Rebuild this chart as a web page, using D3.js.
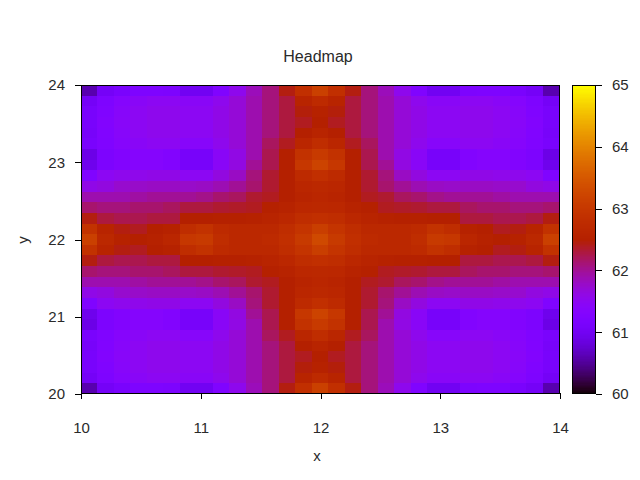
<!DOCTYPE html>
<html lang="en">
<head>
  <meta charset="UTF-8">
  <title>Headmap</title>
  <script src="https://d3js.org/d3.v7.min.js"></script>
  <style>
    html, body { margin: 0; padding: 0; background: #fff; }
    svg { display: block; }
    text { font-family: "Liberation Sans", Arial, sans-serif; fill: #2a2a2a; }
    .domain { display: none; }
  </style>
</head>
<body>
<div id="graph"></div>
<script>
  const xTicks = [10, 11, 12, 13, 14];
  const yTicks = [20, 21, 22, 23, 24];
  const cbTicks = [60, 61, 62, 63, 64, 65];

  // cell values, top row (y = 24) first
  const cells = [
    [60.6,61.05,61.15,61.22,61.22,61.2,61.0,61.0,61.25,61.55,61.85,62.1,62.45,62.85,63.15,62.85,62.45,62.1,61.85,61.55,61.25,61.0,61.0,61.2,61.22,61.22,61.15,61.05,60.6],
    [61.05,61.22,61.35,61.45,61.5,61.5,61.45,61.45,61.55,61.7,61.9,62.1,62.3,62.6,62.75,62.6,62.3,62.1,61.9,61.7,61.55,61.45,61.45,61.5,61.5,61.45,61.35,61.22,61.05],
    [61.12,61.25,61.4,61.5,61.55,61.55,61.5,61.5,61.6,61.7,61.9,62.1,62.3,62.47,62.55,62.47,62.3,62.1,61.9,61.7,61.6,61.5,61.5,61.55,61.55,61.5,61.4,61.25,61.12],
    [61.12,61.3,61.42,61.5,61.55,61.55,61.5,61.5,61.6,61.7,61.9,62.1,62.3,62.4,62.5,62.4,62.3,62.1,61.9,61.7,61.6,61.5,61.5,61.55,61.55,61.5,61.42,61.3,61.12],
    [61.1,61.28,61.4,61.5,61.55,61.55,61.5,61.5,61.6,61.7,61.9,62.1,62.3,62.5,62.6,62.5,62.3,62.1,61.9,61.7,61.6,61.5,61.5,61.55,61.55,61.5,61.4,61.28,61.1],
    [61.15,61.25,61.38,61.45,61.5,61.5,61.4,61.4,61.55,61.7,61.9,62.2,62.4,62.65,62.8,62.65,62.4,62.2,61.9,61.7,61.55,61.4,61.4,61.5,61.5,61.45,61.38,61.25,61.15],
    [60.9,61.2,61.3,61.35,61.35,61.3,61.1,61.1,61.45,61.62,61.9,62.25,62.5,62.9,63.05,62.9,62.5,62.25,61.9,61.62,61.45,61.1,61.1,61.3,61.35,61.35,61.3,61.2,60.9],
    [60.95,61.2,61.3,61.35,61.35,61.3,61.1,61.1,61.45,61.64,62.0,62.25,62.5,63.0,63.2,63.0,62.5,62.25,62.0,61.64,61.45,61.1,61.1,61.3,61.35,61.35,61.3,61.2,60.95],
    [61.25,61.5,61.55,61.57,61.6,61.6,61.5,61.5,61.65,61.8,62.1,62.35,62.5,62.75,62.85,62.75,62.5,62.35,62.1,61.8,61.65,61.5,61.5,61.6,61.6,61.57,61.55,61.5,61.25],
    [61.6,61.65,61.75,61.78,61.8,61.8,61.78,61.8,61.88,62,62.15,62.35,62.5,62.65,62.7,62.65,62.5,62.35,62.15,62,61.88,61.8,61.78,61.8,61.8,61.78,61.75,61.65,61.6],
    [61.9,61.9,61.9,61.95,62,62,62,62.05,62.15,62.2,62.35,62.4,62.5,62.6,62.65,62.6,62.5,62.4,62.35,62.2,62.15,62.05,62,62,62,61.95,61.9,61.9,61.9],
    [62.15,62.1,62.1,62.15,62.15,62.2,62.3,62.3,62.35,62.37,62.4,62.52,62.58,62.68,62.7,62.68,62.58,62.52,62.4,62.37,62.35,62.3,62.3,62.2,62.15,62.15,62.1,62.1,62.15],
    [62.45,62.3,62.25,62.25,62.3,62.3,62.5,62.5,62.52,62.52,62.55,62.6,62.68,62.8,62.85,62.8,62.68,62.6,62.55,62.52,62.52,62.5,62.5,62.3,62.3,62.25,62.25,62.3,62.45],
    [62.9,62.6,62.45,62.4,62.5,62.55,62.8,62.9,62.75,62.7,62.7,62.7,62.8,62.95,63.12,62.95,62.8,62.7,62.7,62.7,62.75,62.9,62.8,62.55,62.5,62.4,62.45,62.6,62.9],
    [63.15,62.7,62.55,62.5,62.55,62.65,63,63.05,62.8,62.7,62.7,62.75,62.85,63.05,63.3,63.05,62.85,62.75,62.7,62.7,62.8,63.05,63,62.65,62.55,62.5,62.55,62.7,63.15],
    [62.9,62.6,62.45,62.4,62.5,62.55,62.8,62.9,62.75,62.7,62.7,62.7,62.8,62.95,63.12,62.95,62.8,62.7,62.7,62.7,62.75,62.9,62.8,62.55,62.5,62.4,62.45,62.6,62.9],
    [62.45,62.3,62.25,62.25,62.3,62.3,62.5,62.5,62.52,62.52,62.55,62.6,62.68,62.8,62.85,62.8,62.68,62.6,62.55,62.52,62.52,62.5,62.5,62.3,62.3,62.25,62.25,62.3,62.45],
    [62.15,62.1,62.1,62.15,62.15,62.2,62.3,62.3,62.35,62.37,62.4,62.52,62.58,62.68,62.7,62.68,62.58,62.52,62.4,62.37,62.35,62.3,62.3,62.2,62.15,62.15,62.1,62.1,62.15],
    [61.9,61.9,61.9,61.95,62,62,62,62.05,62.15,62.2,62.35,62.4,62.5,62.6,62.65,62.6,62.5,62.4,62.35,62.2,62.15,62.05,62,62,62,61.95,61.9,61.9,61.9],
    [61.6,61.65,61.75,61.78,61.8,61.8,61.78,61.8,61.88,62,62.15,62.35,62.5,62.65,62.7,62.65,62.5,62.35,62.15,62,61.88,61.8,61.78,61.8,61.8,61.78,61.75,61.65,61.6],
    [61.25,61.5,61.55,61.57,61.6,61.6,61.5,61.5,61.65,61.8,62.1,62.35,62.5,62.75,62.85,62.75,62.5,62.35,62.1,61.8,61.65,61.5,61.5,61.6,61.6,61.57,61.55,61.5,61.25],
    [60.95,61.2,61.3,61.35,61.35,61.3,61.1,61.1,61.45,61.64,62.0,62.25,62.5,63.0,63.2,63.0,62.5,62.25,62.0,61.64,61.45,61.1,61.1,61.3,61.35,61.35,61.3,61.2,60.95],
    [60.9,61.2,61.3,61.35,61.35,61.3,61.1,61.1,61.45,61.62,61.9,62.25,62.5,62.9,63.05,62.9,62.5,62.25,61.9,61.62,61.45,61.1,61.1,61.3,61.35,61.35,61.3,61.2,60.9],
    [61.15,61.25,61.38,61.45,61.5,61.5,61.4,61.4,61.55,61.7,61.9,62.2,62.4,62.65,62.8,62.65,62.4,62.2,61.9,61.7,61.55,61.4,61.4,61.5,61.5,61.45,61.38,61.25,61.15],
    [61.1,61.28,61.4,61.5,61.55,61.55,61.5,61.5,61.6,61.7,61.9,62.1,62.3,62.5,62.6,62.5,62.3,62.1,61.9,61.7,61.6,61.5,61.5,61.55,61.55,61.5,61.4,61.28,61.1],
    [61.12,61.3,61.42,61.5,61.55,61.55,61.5,61.5,61.6,61.7,61.9,62.1,62.3,62.4,62.5,62.4,62.3,62.1,61.9,61.7,61.6,61.5,61.5,61.55,61.55,61.5,61.42,61.3,61.12],
    [61.12,61.25,61.4,61.5,61.55,61.55,61.5,61.5,61.6,61.7,61.9,62.1,62.3,62.47,62.55,62.47,62.3,62.1,61.9,61.7,61.6,61.5,61.5,61.55,61.55,61.5,61.4,61.25,61.12],
    [61.05,61.22,61.35,61.45,61.5,61.5,61.45,61.45,61.55,61.7,61.9,62.1,62.3,62.6,62.75,62.6,62.3,62.1,61.9,61.7,61.55,61.45,61.45,61.5,61.5,61.45,61.35,61.22,61.05],
    [60.6,61.05,61.15,61.22,61.22,61.2,61.0,61.0,61.25,61.55,61.85,62.1,62.45,62.85,63.15,62.85,62.45,62.1,61.85,61.55,61.25,61.0,61.0,61.2,61.22,61.22,61.15,61.05,60.6]
  ];

  const width = 640, height = 480;
  const margin = { top: 85, right: 80, bottom: 86, left: 81 };
  const svg = d3.select("#graph").append("svg").attr("width", width).attr("height", height);

  const xScale = d3.scaleLinear().domain([10, 14]).range([margin.left, width - margin.right]);
  const yScale = d3.scaleLinear().domain([20, 24]).range([height - margin.bottom, margin.top]);
  const cbScale = d3.scaleLinear().domain([60, 65]).range([height - margin.bottom, margin.top]);

  // gnuplot default palette (rgbformulae 7,5,15)
  function palette(v) {
    const t = (v - 60) / 5;
    return d3.rgb(255 * Math.sqrt(t), 255 * t * t * t, 255 * Math.max(0, Math.sin(2 * Math.PI * t))).formatHex();
  }

  const nRows = cells.length, nCols = cells[0].length;
  const colX = d3.scaleLinear().domain([0, nCols]).range(xScale.domain());
  const rowY = d3.scaleLinear().domain([0, nRows]).range([24, 20]);

  // heat map cells
  const heat = svg.append("g").attr("shape-rendering", "crispEdges");
  heat.selectAll("g").data(cells).enter().append("g")
    .each(function (row, r) {
      d3.select(this).selectAll("rect").data(row).enter().append("rect")
        .attr("x", (d, c) => Math.floor(xScale(colX(c))))
        .attr("y", Math.round(yScale(rowY(r))))
        .attr("width", (d, c) => Math.floor(xScale(colX(c + 1))) - Math.floor(xScale(colX(c))))
        .attr("height", Math.round(yScale(rowY(r + 1))) - Math.round(yScale(rowY(r))))
        .attr("fill", d => palette(d));
    });

  // colour box
  const cbLeft = 572, cbRight = 596;
  const cbSteps = d3.range(60, 65, 0.02);
  svg.append("g").attr("shape-rendering", "crispEdges")
    .selectAll("rect").data(cbSteps).enter().append("rect")
    .attr("x", cbLeft)
    .attr("width", cbRight - cbLeft)
    .attr("y", d => Math.floor(cbScale(d + 0.02)))
    .attr("height", d => Math.ceil(cbScale(d)) - Math.floor(cbScale(d + 0.02)))
    .attr("fill", d => palette(d + 0.01));

  // frames
  svg.append("rect")
    .attr("x", xScale(10) + 0.5).attr("y", yScale(24) + 0.5)
    .attr("width", xScale(14) - xScale(10) - 1).attr("height", yScale(20) - yScale(24) - 1)
    .attr("fill", "none").attr("stroke", "black").attr("shape-rendering", "crispEdges");
  svg.append("rect")
    .attr("x", cbLeft + 0.5).attr("y", cbScale(65) + 0.5)
    .attr("width", cbRight - cbLeft - 1).attr("height", cbScale(60) - cbScale(65) - 1)
    .attr("fill", "none").attr("stroke", "black").attr("shape-rendering", "crispEdges");

  // axes
  const xAxis = d3.axisBottom(xScale).tickValues(xTicks).tickFormat(d3.format("d")).tickSize(6).tickPadding(23);
  const yAxis = d3.axisLeft(yScale).tickValues(yTicks).tickFormat(d3.format("d")).tickSize(6).tickPadding(10);
  const cbAxis = d3.axisRight(cbScale).tickValues(cbTicks).tickFormat(d3.format("d")).tickSize(6).tickPadding(10);

  svg.append("g").attr("transform", `translate(0, ${height - margin.bottom - 1})`).call(xAxis);
  svg.append("g").attr("transform", `translate(${margin.left}, 0)`).call(yAxis);
  svg.append("g").attr("transform", `translate(${cbRight}, 0)`).call(cbAxis);
  svg.selectAll(".tick text").style("font-size", "15px").attr("fill", "#2a2a2a");
  svg.selectAll(".tick line").attr("stroke", "black").attr("shape-rendering", "crispEdges");

  // titles
  svg.append("text").attr("x", 318).attr("y", 62).attr("text-anchor", "middle").style("font-size", "16px").text("Headmap");
  svg.append("text").attr("x", 317).attr("y", 461).attr("text-anchor", "middle").style("font-size", "15px").text("x");
  svg.append("text").attr("transform", "translate(28, 240) rotate(-90)").attr("text-anchor", "middle").style("font-size", "15px").text("y");
</script>
</body>
</html>
